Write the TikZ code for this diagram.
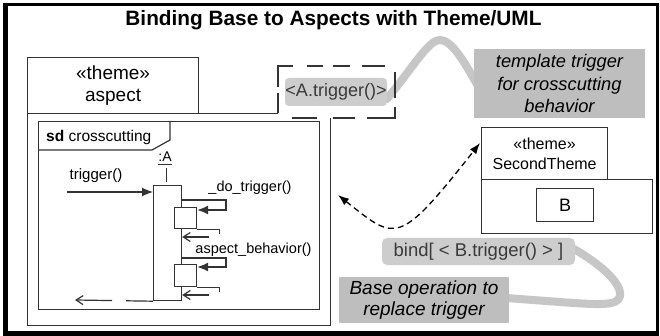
\documentclass[tikz,border=0pt]{standalone}
\usepackage{fontspec}
\setmainfont{Liberation Sans}
\usetikzlibrary{arrows.meta,calc}
\definecolor{notegray}{HTML}{BEBEBE}
\definecolor{taggray}{HTML}{CDCDCD}
\definecolor{curvegray}{HTML}{C6C6C6}
\definecolor{linecol}{HTML}{333333}
\definecolor{tagtext}{HTML}{3A3A3A}
\begin{document}
\begin{tikzpicture}[x=1pt,y=-1pt,
  ul/.style={draw=linecol,line width=1.2pt},
  box/.style={ul,fill=white,inner sep=0pt,anchor=north west},
  dseg/.style={draw=linecol,line width=1.3pt},
  tri/.style={-{Latex[length=11pt,width=9pt]}},
  barb/.style={-{Straight Barb[length=7pt,width=9pt]}},
  gcurve/.style={curvegray,line width=8pt,line cap=round},
  msg/.style={font=\fontsize{14.5}{17}\selectfont,inner sep=0pt}
]
\useasboundingbox (0,0) rectangle (660,336);
\fill[white] (0,0) rectangle (660,336);

% outer frame
\draw[line width=3pt,black] (5.8,4.5) rectangle (657.5,333);
\draw[line width=5pt,black] (5.8,3) -- (5.8,333) -- (659,333);

% title
\node[anchor=base,inner sep=0pt,font=\bfseries\fontsize{20.8}{25}\selectfont] (title) at (333.5,26) {Binding Base to Aspects with Theme/UML};

% theme aspect
\node[box,minimum width=303pt,minimum height=212pt] (aspbody) at (27,113) {};
\node[box,minimum width=171pt,minimum height=56pt,align=center,font=\fontsize{19}{22}\selectfont] (asptab) at (27,57) {«theme»\\aspect};

% template box (dashed)
\node[fill=white,inner sep=0pt,anchor=north west,minimum width=117pt,minimum height=52pt] (tmplbox) at (278,66) {};
\draw[gcurve] (387,99) .. controls (416,63) and (429,40) .. (440,40) .. controls (452,40) and (465,63) .. (479,88);
\draw[dseg] (278,87) -- (278,66) -- (293,66);
\draw[dseg] (307,66) -- (323,66);
\draw[dseg] (333,66) -- (350,66);
\draw[dseg] (362,66) -- (385,66);
\draw[dseg] (395,72) -- (395,98);
\draw[dseg] (395,107) -- (395,118) -- (367,118);
\draw[dseg] (355,118) -- (333,118);
\draw[dseg] (317,118) -- (292,118);
\draw[dseg] (278,93) -- (278,113);
\node[fill=taggray,rounded corners=4pt,minimum width=102pt,minimum height=28pt,inner sep=0pt,font=\fontsize{18}{20}\selectfont,text=tagtext] (atrig) at (336,92) {<A.trigger()>};

% sd frame
\node[box,minimum width=281pt,minimum height=188pt] (sd) at (38,121) {};
\draw[ul] (38,150) -- (152,150) -- (170,140) -- (170,121);
\node[anchor=base west,inner sep=0pt,font=\fontsize{15.5}{18}\selectfont] (sdlabel) at (46,142) {\textbf{sd} crosscutting};

% lifeline A
\node[anchor=base,inner sep=0pt,font=\fontsize{14}{16}\selectfont] (aname) at (165,162) {:A};
\draw[ul,line width=0.8pt] ($(aname.south west)+(0,2)$) -- ($(aname.south east)+(0,2)$);
\node[box,minimum width=28pt,minimum height=115pt] (act) at (153,185) {};
\draw[ul] ($(act.north)+(-1,-17)$) -- ($(act.north)+(-1,-3)$);
\draw[ul] ($(act.south)+(-1,0)$) -- ($(act.south)+(-1,0)$ |- sd.south);

% trigger message
\coordinate (trigstart) at (67,192);
\draw[ul,tri] (trigstart) -- (trigstart -| act.west);
\node[msg,font=\fontsize{15}{18}\selectfont] (triglbl) at (96,176) {trigger()};

% first nested execution
\node[box,minimum width=22pt,minimum height=21pt] (ex1) at (174,207) {};
\coordinate (c1a) at (181,200);
\coordinate (c1b) at (226,210);
\draw[ul,tri] (c1a) -| (c1b) -- (c1b -| ex1.east);
\draw[ul] (ex1.south east) -- ++(22,0) -- ++(0,5);
\coordinate (r1s) at (209,237);
\draw[ul,barb] (r1s) -- (r1s -| act.east);
\node[msg] (dolbl) at (250,188) {\_do\_trigger()};

% second nested execution
\node[box,minimum width=22pt,minimum height=22pt] (ex2) at (174,264) {};
\coordinate (c2a) at (181,258);
\coordinate (c2b) at (226,267);
\draw[ul,tri] (c2a) -| (c2b) -- (c2b -| ex2.east);
\draw[ul] (ex2.south east) -- ++(22,0) -- ++(0,5);
\coordinate (r2s) at (209,295);
\draw[ul,barb] (r2s) -- (r2s -| act.east);
\node[msg] (asplbl) at (253.5,250) {aspect\_behavior()};

% final return
\coordinate (retend) at (75,300);
\draw[ul,barb,dash pattern=on 27pt off 14pt on 60pt off 1pt] (act.south west) -- (retend);

% note top right
\node[fill=notegray,inner sep=0pt,minimum width=171pt,minimum height=69pt,align=center,font=\itshape\fontsize{18.3}{22.5}\selectfont] (note1) at (559.5,83.5) {template trigger\\for crosscutting\\behavior};

% SecondTheme
\node[box,minimum width=171pt,minimum height=54pt] (stbody) at (481,179) {};
\node[box,minimum width=126pt,minimum height=52pt,align=center,font=\fontsize{16}{19.6}\selectfont] (sttab) at (481,127) {«theme»\\SecondTheme};
\node[box,minimum width=57pt,minimum height=33pt,font=\fontsize{18}{20}\selectfont] (bbox) at (536,188) {B};

% dashed double arrow
\coordinate (dl) at (338,195);
\coordinate (dr) at (480,143);
\draw[black,line width=1.3pt,dash pattern=on 6pt off 4pt,{Latex[length=11pt,width=8pt]}-{Latex[length=11pt,width=8pt]}] (dl) .. controls (396,241) and (398,247) .. (dr);

% bind and base note
\draw[gcurve] (574,249) .. controls (600,264) and (622,283) .. (620,296) .. controls (618,306) and (600,305) .. (560,302) -- (506,298);
\node[fill=taggray,rounded corners=5pt,inner sep=0pt,minimum width=193pt,minimum height=27pt,font=\fontsize{18.5}{20}\selectfont,text=tagtext] (bind) at (478.5,251.5) {bind[ < B.trigger() > ]};
\node[fill=notegray,inner sep=0pt,minimum width=170pt,minimum height=46pt,align=center,font=\itshape\fontsize{19}{21}\selectfont] (basenote) at (424,300) {Base operation to\\replace trigger};
\end{tikzpicture}
\end{document}
